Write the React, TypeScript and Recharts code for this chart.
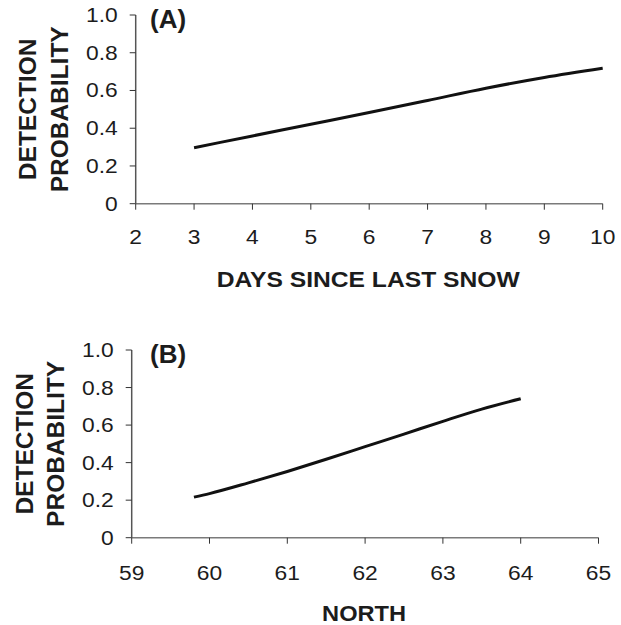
import React from "react";
import { LineChart, Line, XAxis, YAxis } from "recharts";

// Panel A: days since last snow
const daysX = [3, 4, 5, 6, 7, 8, 9, 10];
const daysP = [0.297, 0.359, 0.421, 0.483, 0.547, 0.612, 0.669, 0.718];

// Panel B: north
const northX = [59.8, 60, 60.5, 61, 61.5, 62, 62.5, 63, 63.5, 64];
const northP = [0.216, 0.235, 0.292, 0.353, 0.418, 0.485, 0.552, 0.62, 0.685, 0.74];

const yTicks = [0, 0.2, 0.4, 0.6, 0.8, 1.0];
const daysTicks = [2, 3, 4, 5, 6, 7, 8, 9, 10];
const northTicks = [59, 60, 61, 62, 63, 64, 65];

const dataA = daysX.map((x, i) => ({ x, p: daysP[i] }));
const dataB = northX.map((x, i) => ({ x, p: northP[i] }));

const FONT = "'Liberation Sans', Arial, Helvetica, sans-serif";
const TEXT = "#1c1c1c";
const TICK_FS = 20;
const STRETCH = 1.14;

const yFmt = (v: number) => (v === 0 ? "0" : v.toFixed(1));

const textLen = (s: string) => {
  let w = 0;
  for (const c of s) w += c === "." ? 0.278 : 0.556;
  return w * TICK_FS * STRETCH;
};

const makeYLabel =
  (b1: number, b2: number, panel: string, panelDx: number, panelDy: number) =>
  (p: any) => {
    const vb = p.viewBox;
    const cy = vb.y + vb.height / 2;
    return (
      <g fontFamily={FONT} fill={TEXT} fontWeight="bold">
        <text x={b1} y={cy} transform={`rotate(-90 ${b1} ${cy})`} textAnchor="middle" fontSize={24.5}>
          DETECTION
        </text>
        <text x={b2} y={cy} transform={`rotate(-90 ${b2} ${cy})`} textAnchor="middle" fontSize={24.5}>
          PROBABILITY
        </text>
        <text x={vb.x + vb.width + panelDx} y={vb.y + panelDy} fontSize={26}>
          {panel}
        </text>
      </g>
    );
  };

const makeXLabel = (title: string, dy: number, len: number) => (p: any) => {
  const vb = p.viewBox;
  return (
    <text
      x={vb.x + vb.width / 2 - 1}
      y={vb.y + dy}
      textAnchor="middle"
      fontFamily={FONT}
      fontWeight="bold"
      fontSize={22}
      fill={TEXT}
      textLength={len}
      lengthAdjust="spacingAndGlyphs"
    >
      {title}
    </text>
  );
};

const XTick = (props: any) => {
  const { x, y, payload } = props;
  const s = String(payload.value);
  return (
    <text
      x={x}
      y={y}
      dy={14}
      textAnchor="middle"
      fontFamily={FONT}
      fontSize={TICK_FS}
      fill={TEXT}
      textLength={textLen(s)}
      lengthAdjust="spacingAndGlyphs"
    >
      {s}
    </text>
  );
};

const YTick = (props: any) => {
  const { x, y, payload } = props;
  const s = yFmt(payload.value);
  return (
    <text
      x={x}
      y={y}
      dy={7}
      textAnchor="end"
      fontFamily={FONT}
      fontSize={TICK_FS}
      fill={TEXT}
      textLength={textLen(s)}
      lengthAdjust="spacingAndGlyphs"
    >
      {s}
    </text>
  );
};

export default function App() {
  return (
    <div style={{ position: "absolute", left: 0, top: 0, width: 621, height: 625, background: "#fff" }}>
      <div style={{ position: "absolute", left: 0, top: 0 }}>
        <LineChart width={621} height={312} data={dataA} margin={{ top: 15, right: 18.3, left: 0, bottom: 0 }}>
          <XAxis
            dataKey="x"
            type="number"
            domain={[2, 10]}
            ticks={daysTicks}
            height={108.3}
            tickSize={6}
            tickMargin={20}
            tick={<XTick />}
            axisLine={{ stroke: "#7a7a7a", strokeWidth: 1.5 }}
            tickLine={{ stroke: "#333" }}
            interval={0}
            label={{ content: makeXLabel("DAYS SINCE LAST SNOW", 83.6, 303) }}
          />
          <YAxis
            type="number"
            domain={[0, 1]}
            ticks={yTicks}
            width={135.7}
            tickSize={6}
            tickMargin={12}
            tick={<YTick />}
            axisLine={{ stroke: "#555", strokeWidth: 1.5 }}
            tickLine={{ stroke: "#333" }}
            interval={0}
            label={{ content: makeYLabel(36, 68.3, "(A)", 14.3, 13.3) }}
          />
          <Line
            dataKey="p"
            type="monotone"
            stroke="#111"
            strokeWidth={3}
            dot={false}
            isAnimationActive={false}
          />
        </LineChart>
      </div>
      <div style={{ position: "absolute", left: 0, top: 312 }}>
        <LineChart width={621} height={313} data={dataB} margin={{ top: 38, right: 22.5, left: 0, bottom: 0 }}>
          <XAxis
            dataKey="x"
            type="number"
            domain={[59, 65]}
            ticks={northTicks}
            height={87.3}
            tickSize={6}
            tickMargin={22}
            tick={<XTick />}
            axisLine={{ stroke: "#7a7a7a", strokeWidth: 1.5 }}
            tickLine={{ stroke: "#333" }}
            interval={0}
            label={{ content: makeXLabel("NORTH", 83.3, 84) }}
          />
          <YAxis
            type="number"
            domain={[0, 1]}
            ticks={yTicks}
            width={131.7}
            tickSize={6}
            tickMargin={12}
            tick={<YTick />}
            axisLine={{ stroke: "#555", strokeWidth: 1.5 }}
            tickLine={{ stroke: "#333" }}
            interval={0}
            label={{ content: makeYLabel(33.3, 64, "(B)", 18.3, 13) }}
          />
          <Line
            dataKey="p"
            type="monotone"
            stroke="#111"
            strokeWidth={3}
            dot={false}
            isAnimationActive={false}
          />
        </LineChart>
      </div>
    </div>
  );
}
